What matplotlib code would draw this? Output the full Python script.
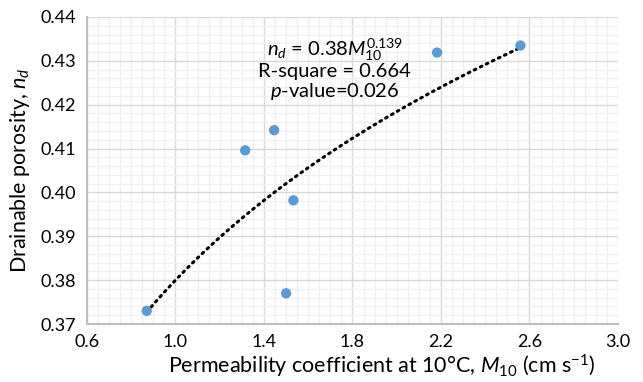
import numpy as np
import matplotlib
matplotlib.use("Agg")
import matplotlib.pyplot as plt
from matplotlib.ticker import MultipleLocator, FixedLocator, FormatStrFormatter

plt.rcParams['font.family'] = ['Lato', 'DejaVu Sans']
plt.rcParams['mathtext.fontset'] = 'custom'
plt.rcParams['mathtext.rm'] = 'Lato'
plt.rcParams['mathtext.it'] = 'Lato:italic'

# data
m10 = [0.87, 1.315, 1.446, 1.500, 1.533, 2.182, 2.559]
nd = [0.3730, 0.4096, 0.4142, 0.3770, 0.3982, 0.4319, 0.4335]

# power trendline coefficients (from the label)
coef_a = 0.38
coef_b = 0.139

x_ticks = [0.6, 1.0, 1.4, 1.8, 2.2, 2.6, 3.0]

fig = plt.figure(figsize=(6.43, 3.82), dpi=100)
ax = fig.add_axes([0.1353, 0.1518, 0.8258, 0.8037])

xs = np.linspace(min(m10), max(m10), 200)
ax.plot(xs, coef_a * xs ** coef_b, color='black', linestyle=(0, (0.6, 1.6)),
        linewidth=2.2, dash_capstyle='round', zorder=3)
ax.scatter(m10, nd, s=55, color='#5B9BD5', edgecolors='none', zorder=4)

ax.set_xlim(0.6, 3.0)
ax.set_ylim(0.37, 0.44)
ax.xaxis.set_major_locator(FixedLocator(x_ticks))
ax.xaxis.set_minor_locator(MultipleLocator(0.05))
ax.yaxis.set_major_locator(MultipleLocator(0.01))
ax.yaxis.set_minor_locator(MultipleLocator(0.002))
ax.xaxis.set_major_formatter(FormatStrFormatter('%.1f'))
ax.yaxis.set_major_formatter(FormatStrFormatter('%.2f'))

ax.grid(which='major', color='#D9D9D9', linewidth=1.0, zorder=0)
ax.grid(which='minor', color='#F0F0F0', linewidth=1.0, zorder=0)
ax.set_axisbelow(True)
ax.tick_params(which='both', length=0, labelsize=13, colors='black')
ax.tick_params(axis='y', pad=8)
ax.tick_params(axis='x', pad=7)

for side in ['top', 'right']:
    ax.spines[side].set_visible(False)
for side in ['left', 'bottom']:
    ax.spines[side].set_color('#BFBFBF')
    ax.spines[side].set_linewidth(1.5)

xl = ax.set_xlabel(r"Permeability coefficient at 10°C, $\mathit{M}_{\mathit{10}}$ (cm s$^{\mathrm{-1}}$)",
                   fontsize=15.5)
xl.set_va('center')
ax.xaxis.set_label_coords(0.556, -0.138)
ax.set_ylabel(r"Drainable porosity, $\mathit{n}_{\mathit{d}}$", fontsize=15.5, labelpad=6)

ax.text(1.72, 0.4326, r"$\mathit{n}_{\mathit{d}}$ = 0.38$\mathit{M}_{\mathit{10}}^{\mathrm{0.139}}$",
        fontsize=14.5, ha='center', va='center')
ax.text(1.72, 0.4275, "R-square = 0.664", fontsize=14.5, ha='center', va='center')
ax.text(1.72, 0.4229, r"$\mathit{p}$-value=0.026", fontsize=14.5, ha='center', va='center')

fig.savefig('out.png', dpi=100)
